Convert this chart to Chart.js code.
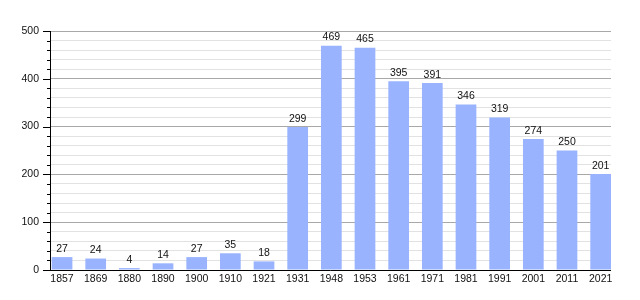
<!DOCTYPE html>
<html>
<head>
<meta charset="utf-8">
<script src="https://cdn.jsdelivr.net/npm/chart.js@4/dist/chart.umd.min.js"></script>
<style>
  body { margin: 0; background: #fff; }
  #wrap { width: 640px; height: 300px; }
</style>
</head>
<body>
<div id="wrap"><canvas id="chart" width="640" height="300"></canvas></div>
<script>
// population by census year
const years = ['1857','1869','1880','1890','1900','1910','1921','1931','1948','1953','1961','1971','1981','1991','2001','2011','2021'];
const population = [27,24,4,14,27,35,18,299,469,465,395,391,346,319,274,250,201];
const yTicks = [0,100,200,300,400,500];

const FONT = {family: '"Liberation Sans", Arial, sans-serif', size: 10.5};
const barRatio = 0.615;

// tick marks, axis lines and value labels on top of the bars
const extras = {
  id: 'extras',
  afterDatasetsDraw(chart){
    const ctx = chart.ctx, area = chart.chartArea, y = chart.scales.y;
    ctx.save();
    ctx.strokeStyle = '#000';
    ctx.lineWidth = 1;
    ctx.beginPath();
    y.ticks.forEach(t=>{
      const py = Math.round(y.getPixelForValue(t.value)) + 0.5;
      const len = yTicks.includes(t.value) ? 7 : 3;
      ctx.moveTo(area.left - len, py);
      ctx.lineTo(area.left, py);
    });
    ctx.moveTo(area.left + 0.5, area.top);
    ctx.lineTo(area.left + 0.5, area.bottom + 1);
    ctx.moveTo(area.left, area.bottom + 0.5);
    ctx.lineTo(area.right, area.bottom + 0.5);
    ctx.stroke();

    ctx.fillStyle = '#111';
    ctx.font = FONT.size + 'px ' + FONT.family;
    ctx.textAlign = 'center';
    ctx.textBaseline = 'bottom';
    chart.getDatasetMeta(0).data.forEach((bar,i)=>{
      ctx.fillText(String(population[i]), bar.x, bar.y - 3);
    });
    ctx.restore();
  }
};

new Chart(document.getElementById('chart'), {
  type: 'bar',
  data: {
    datasets: [{
      data: population.map((v,i)=>({x:i, y:v})),
      backgroundColor: '#99b3ff',
      borderWidth: 0,
      barPercentage: barRatio,
      categoryPercentage: 1
    }]
  },
  options: {
    responsive: false,
    animation: false,
    events: [],
    layout: {padding: {top: 31, right: 29, left: 0, bottom: 0}},
    plugins: {legend: {display: false}, tooltip: {enabled: false}},
    scales: {
      x: {
        type: 'linear',
        offset: false,
        min: -barRatio/2 - 0.05,
        max: years.length - 1 + barRatio/2,
        afterBuildTicks(s){ s.ticks = years.map((_,i)=>({value:i})); },
        afterFit(s){ s.height = 30; },
        grid: {display: false, drawTicks: false, offset: false},
        border: {display: false},
        ticks: {
          autoSkip: false, maxRotation: 0, padding: 3,
          color: '#111', font: FONT,
          callback: v => years[v]
        }
      },
      y: {
        min: 0, max: 500,
        afterFit(s){ s.width = 50; },
        grid: {
          drawTicks: false,
          color: c => yTicks.includes(c.tick.value) ? '#a8a8a8' : '#e2e2e2'
        },
        border: {display: false},
        ticks: {
          stepSize: 20, padding: 11, autoSkip: false,
          color: '#111', font: FONT,
          callback: v => yTicks.includes(v) ? String(v) : ''
        }
      }
    }
  },
  plugins: [extras]
});
</script>
</body>
</html>
